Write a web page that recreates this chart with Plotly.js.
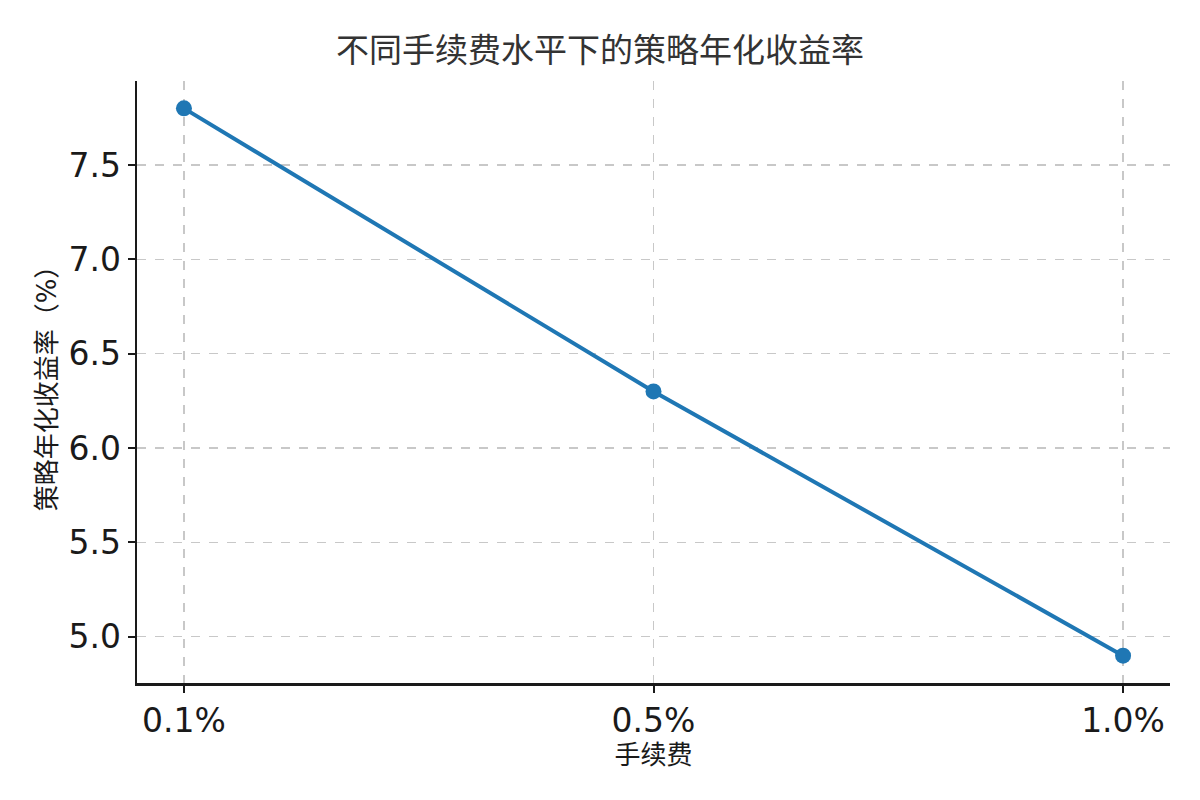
<!DOCTYPE html>
<html>
<head>
<meta charset="utf-8">
<script src="https://cdn.plot.ly/plotly-3.0.1.min.js"></script>
<style>html,body{margin:0;padding:0;background:#fff;}#chart{width:1200px;height:800px;}</style>
</head>
<body>
<div id="chart"></div>
<script>
const categories = ["0.1%", "0.5%", "1.0%"];
const values = [7.8, 6.3, 4.9];
const yTickVals = [5.0, 5.5, 6.0, 6.5, 7.0, 7.5];
const yTickText = ["5.0", "5.5", "6.0", "6.5", "7.0", "7.5"];
const titleText = "不同手续费水平下的策略年化收益率";
const xTitle = "手续费";
const yTitle = "策略年化收益率（%）";

const fontFam = "DejaVu Sans, Noto Sans CJK SC, sans-serif";

const trace = {
  x: categories,
  y: values,
  type: "scatter",
  mode: "lines+markers",
  line: {color: "#1f77b4", width: 4},
  marker: {color: "#1f77b4", size: 16},
  hoverinfo: "skip"
};

const layout = {
  width: 1200, height: 800,
  margin: {l: 137, r: 30, t: 81, b: 117},
  paper_bgcolor: "#fff", plot_bgcolor: "#fff",
  showlegend: false,
  font: {family: fontFam, color: "#1a1a1a"},
  title: {text: titleText, x: 0.5, xanchor: "center", y: 0.9375, yanchor: "middle",
          font: {family: fontFam, size: 33, color: "#333"}},
  xaxis: {
    type: "category", range: [-0.1, 2.1],
    showline: true, linecolor: "#1a1a1a", linewidth: 2.5,
    ticks: "outside", ticklen: 7, tickwidth: 2, tickcolor: "#1a1a1a",
    tickfont: {size: 33, family: fontFam, color: "#1a1a1a"},
    showgrid: true, gridcolor: "#c8c8c8", griddash: "dash", gridwidth: 1.2,
    zeroline: false, mirror: false,
    title: {text: xTitle, font: {size: 26, family: fontFam, color: "#1a1a1a"}, standoff: 7}
  },
  yaxis: {
    range: [4.755, 7.945],
    tickvals: yTickVals, ticktext: yTickText,
    showline: true, linecolor: "#1a1a1a", linewidth: 2.5,
    ticks: "outside", ticklen: 7, tickwidth: 2, tickcolor: "#1a1a1a",
    tickfont: {size: 33, family: fontFam, color: "#1a1a1a"},
    showgrid: true, gridcolor: "#c8c8c8", griddash: "dash", gridwidth: 1.2,
    zeroline: false,
    title: {text: yTitle, font: {size: 26, family: fontFam, color: "#1a1a1a"}, standoff: 5}
  }
};

Plotly.newPlot("chart", [trace], layout, {displayModeBar: false, staticPlot: true});
</script>
</body>
</html>
